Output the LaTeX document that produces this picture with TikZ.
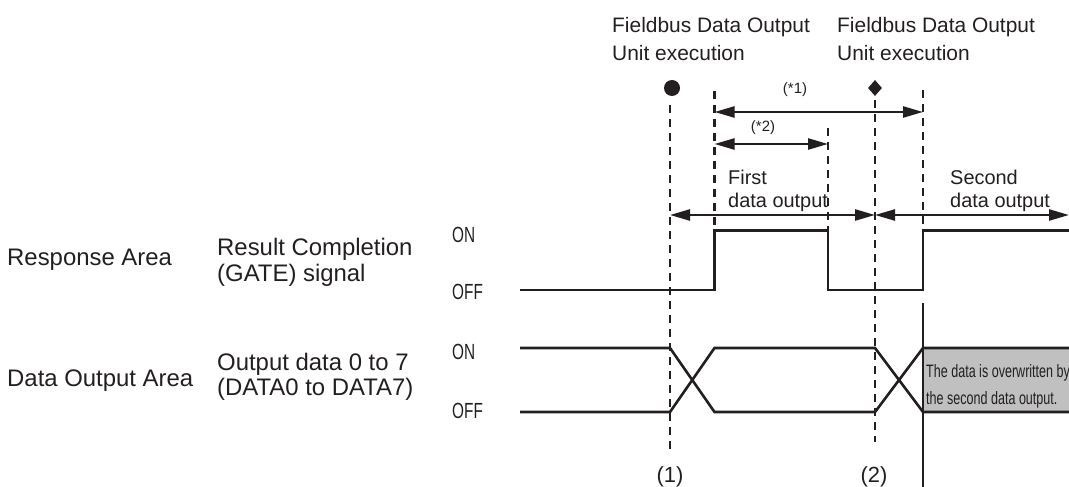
\documentclass[tikz,border=0pt]{standalone}
\usepackage{fontspec}
\setmainfont{Liberation Sans}
\newfontfamily\narrowfont[FakeStretch=0.7]{Liberation Sans}
\usepackage{tikz}
\usetikzlibrary{arrows.meta, shapes.geometric}
\definecolor{ink}{HTML}{231F20}
\definecolor{boxgray}{HTML}{C0C0C0}

\begin{document}
\begin{tikzpicture}[x=1bp, y=-1bp,
        rowtext/.style={anchor=west, inner sep=0pt, align=left, text=ink, font=\fontsize{24}{25.5}\selectfont},
        toptext/.style={anchor=west, inner sep=0pt, align=left, text=ink, font=\fontsize{21}{28}\selectfont},
        onoff/.style={anchor=west, inner sep=0pt, text=ink, font=\narrowfont\fontsize{22}{24}\selectfont},
        note/.style={inner sep=0pt, text=ink, font=\fontsize{15}{17}\selectfont},
        wave/.style={line width=2.6bp, ink},
        guide/.style={line width=2.6bp, ink, dash pattern=on 8bp off 6bp},
        span/.style={{Triangle[length=20bp,width=11bp]}-{Triangle[length=20bp,width=11bp]}, line width=2.4bp, ink}
    ]
        \useasboundingbox (0,0) rectangle (1069,487);

        % row labels
        \node (resp) [rowtext] at (7,260) {Response Area};
        \node (gate) [rowtext] at (217,262.5) {Result Completion\\(GATE) signal};
        \node (gon) [onoff] at (452,235) {ON};
        \node (goff) [onoff] at (452,292) {OFF};
        \node (dout) [rowtext] at (7,381) {Data Output Area};
        \node (data) [rowtext] at (217,377) {Output data 0 to 7\\(DATA0 to DATA7)};
        \node (don) [onoff] at (452,352) {ON};
        \node (doff) [onoff] at (452,411) {OFF};

        % execution marks
        \node (exec1) [toptext] at (612,39) {Fieldbus Data Output\\Unit execution};
        \node (exec2) [toptext] at (837,39) {Fieldbus Data Output\\Unit execution};
        \node (dot1) [circle, fill=ink, inner sep=0pt, minimum size=16bp] at (672,88) {};
        \node (dia2) [diamond, fill=ink, inner sep=0pt, minimum width=14bp, minimum height=16bp] at (875,88) {};
        \node (mark1) [note, font=\fontsize{22}{24}\selectfont] at (670,477) {(1)};
        \node (mark2) [note, font=\fontsize{22}{24}\selectfont] at (874,477) {(2)};

        \draw [guide] (670,105) -- (670,450);
        \draw [guide] (714.5,91) -- (714.5,230);
        \draw [guide] (828,128) -- (828,230);
        \draw [guide] (875,100) -- (875,442);
        \draw [guide] (923,90) -- (923,230);

        % spans
        \coordinate (s1) at (714.5,112);
        \coordinate (e1) at (923,112);
        \coordinate (s2) at (714.5,144);
        \coordinate (e2) at (828,144);
        \coordinate (s3) at (670,215);
        \coordinate (m3) at (875,215);
        \coordinate (e3) at (1069,215);
        \draw [span] (s1) -- (e1);
        \draw [span] (s2) -- (e2);
        \draw [span] (s3) -- (m3);
        \draw [span] (m3) -- (e3);
        \node (n1) [note] at (795,90) {(*1)};
        \node (n2) [note] at (763,128) {(*2)};
        \node (first) [toptext, font=\fontsize{20}{23}\selectfont] at (728,190.5) {First\\data output};
        \node (second) [toptext, font=\fontsize{20}{23}\selectfont] at (950,190.5) {Second\\data output};

        % waveforms
        \draw [wave] (520,290) -- (714.5,290) -- (714.5,230.5) -- (828,230.5) -- (828,290) -- (923,290) -- (923,230.5) -- (1069,230.5);
        \fill [boxgray] (923,348) rectangle (1069,412);
        \draw [wave] (520,348) -- (670,348) -- (714.5,412) -- (875,412) -- (923,348) -- (1069,348);
        \draw [wave] (520,412) -- (670,412) -- (714.5,348) -- (875,348) -- (923,412) -- (1069,412);
        \draw [wave] (923,303) -- (923,487);
        \node (over) [anchor=west, inner sep=0pt, align=left, text=ink, font=\narrowfont\fontsize{18}{26.7}\selectfont] at (926,386.5) {The data is overwritten by\\the second data output.};
    \end{tikzpicture}
\end{document}
